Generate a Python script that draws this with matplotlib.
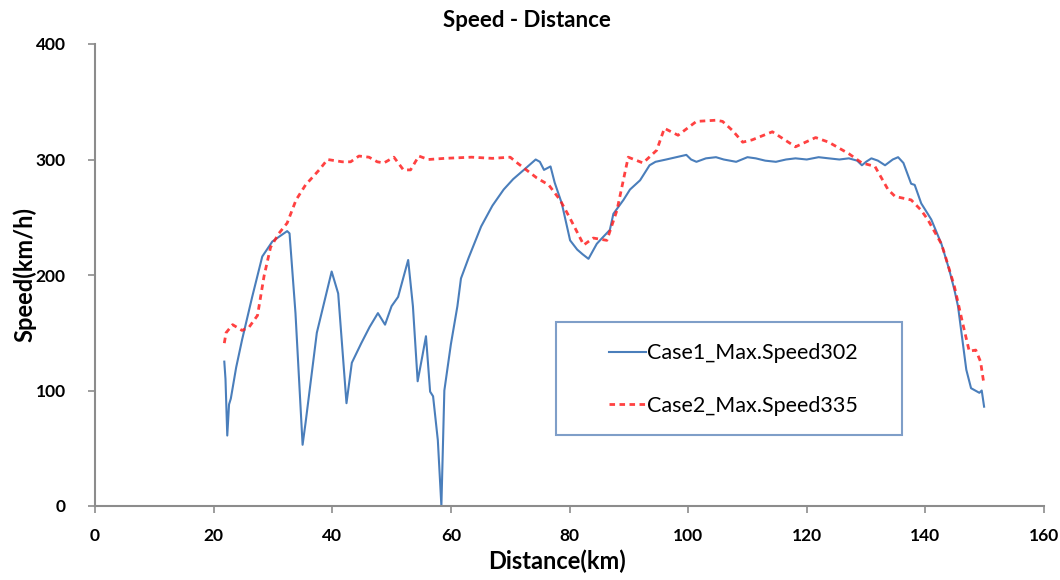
import matplotlib
matplotlib.use("Agg")
import matplotlib.pyplot as plt
from matplotlib.patches import Rectangle

# Case 1 (blue, solid)
case1_km = [21.8, 22.0, 22.3, 22.6, 22.9, 23.8, 24.8, 26.5, 28.2, 29.9, 31.0, 32.4, 32.8,
            33.8, 35.0, 35.5, 37.4, 39.9, 41.0, 42.4, 43.3, 44.9, 46.3, 47.7, 48.9, 50.0,
            51.1, 52.8, 53.6, 54.4, 55.2, 55.8, 56.5, 57.0, 57.8, 58.4, 58.9, 60.0, 61.1,
            61.7, 63.0, 65.1, 67.0, 68.9, 70.5, 72.3, 74.3, 75.0, 75.7, 76.8, 77.5, 78.7,
            80.1, 81.3, 82.2, 83.2, 84.6, 85.5, 86.8, 87.4, 89.1, 90.2, 91.9, 93.5, 94.5,
            96.3, 98.0, 99.7, 100.5, 101.4, 103.0, 104.7, 106.0, 108.1, 110.0, 111.4, 113.0,
            114.8, 116.5, 118.1, 120.0, 122.0, 123.7, 125.5, 127.1, 128.5, 129.3, 130.0,
            130.9, 132.0, 133.2, 134.5, 135.4, 136.3, 137.6, 138.2, 139.3, 140.4, 141.0,
            142.7, 144.0, 144.9, 145.5, 146.9, 147.7, 149.1, 149.5, 149.9]
case1_speed = [125, 110, 61, 88, 93, 120, 144, 181, 216, 229, 233, 238, 236,
               167, 53, 72, 150, 203, 184, 89, 124, 141, 155, 167, 157, 173,
               181, 213, 173, 108, 130, 147, 99, 95, 57, 0, 100, 140, 173,
               197, 215, 242, 260, 274, 283, 291, 300, 298, 291, 294, 280, 262,
               230, 222, 218, 214, 227, 232, 239, 253, 265, 274, 282, 295, 298,
               300, 302, 304, 300, 298, 301, 302, 300, 298, 302, 301, 299,
               298, 300, 301, 300, 302, 301, 300, 301, 299, 295, 298,
               301, 299, 295, 300, 302, 297, 279, 278, 262, 253, 248,
               227, 205, 187, 173, 118, 102, 98, 100, 86]

# Case 2 (red, dashed)
case2_km = [21.8, 22.1, 23.2, 24.8, 26.0, 27.4, 28.5, 29.6, 31.0, 32.4, 33.9, 35.5, 37.8,
            39.2, 41.7, 43.1, 44.5, 46.2, 47.6, 48.7, 50.4, 52.0, 53.2, 54.6, 56.2, 59.0,
            63.5, 67.0, 70.0, 71.2, 74.5, 76.5, 78.4, 80.0, 82.4, 84.0, 86.3, 88.0, 89.9,
            92.4, 94.7, 96.0, 98.3, 101.4, 104.7, 105.8, 107.5, 109.2, 110.8, 114.2, 116.0,
            118.1, 121.5, 123.7, 127.1, 129.3, 131.5, 133.7, 134.9, 137.6, 139.3, 140.4,
            142.7, 143.2, 144.9, 146.3, 147.4, 148.5, 149.3, 149.8]
case2_speed = [141, 150, 157, 152, 155, 165, 199, 224, 236, 245, 265, 278, 291,
               300, 298, 298, 303, 302, 298, 297, 302, 291, 291, 303, 300, 301,
               302, 301, 302, 297, 284, 278, 265, 250, 226, 232, 230, 256, 302,
               297, 308, 327, 321, 333, 334, 333, 325, 315, 317, 324, 318,
               311, 319, 315, 305, 297, 294, 274, 268, 265, 256, 248,
               227, 219, 190, 158, 134, 135, 125, 108]

x_ticks = [0, 20, 40, 60, 80, 100, 120, 140, 160]
y_ticks = [0, 100, 200, 300, 400]

plt.rcParams["font.family"] = ["Lato", "DejaVu Sans"]

fig = plt.figure(figsize=(10.6, 5.8), dpi=100)
ax = fig.add_axes([95 / 1060, 74 / 580, 949 / 1060, 462 / 580])

ax.plot(case1_km, case1_speed, color="#4a7ebb", lw=1.5, label="Case1_Max.Speed302")
ax.plot(case2_km, case2_speed, color="#ff2020", lw=2, linestyle=(0, (2, 1.6)),
        alpha=0.85, label="Case2_Max.Speed335")

ax.set_xlim(0, 160)
ax.set_ylim(0, 400)
ax.set_xticks(x_ticks)
ax.set_yticks(y_ticks)

for side in ("top", "right"):
    ax.spines[side].set_visible(False)
for side in ("left", "bottom"):
    ax.spines[side].set_color("#8c8c8c")
    ax.spines[side].set_linewidth(1.5)
ax.tick_params(axis="both", direction="out", length=5, width=1.2, color="#8c8c8c",
               labelsize=12.5)
ax.tick_params(axis="y", pad=16)
ax.tick_params(axis="x", pad=11)
for lbl in ax.get_xticklabels() + ax.get_yticklabels():
    lbl.set_fontweight("bold")

ax.set_xlabel("Distance(km)", fontsize=17, fontweight="bold")
ax.set_ylabel("Speed(km/h)", fontsize=17, fontweight="bold")
ax.xaxis.set_label_coords(0.487, -0.095)
ax.yaxis.set_label_coords(-0.062, 0.5)

fig.text(0.497, 0.965, "Speed - Distance", ha="center", va="center",
         fontsize=16, fontweight="bold")

# legend box drawn separately so its size matches the original
ax.add_patch(Rectangle((0.4853, 0.1537), 0.3653, 0.2446, transform=ax.transAxes,
                       fill=False, edgecolor="#7f9ec8", lw=1.5, zorder=3))
leg = ax.legend(loc="center left", bbox_to_anchor=(0.542, 0.2735), fontsize=15.5,
                handlelength=1.7, handletextpad=0.05, labelspacing=1.5,
                borderpad=0, borderaxespad=0, frameon=False)

fig.savefig("out.png", dpi=100)
